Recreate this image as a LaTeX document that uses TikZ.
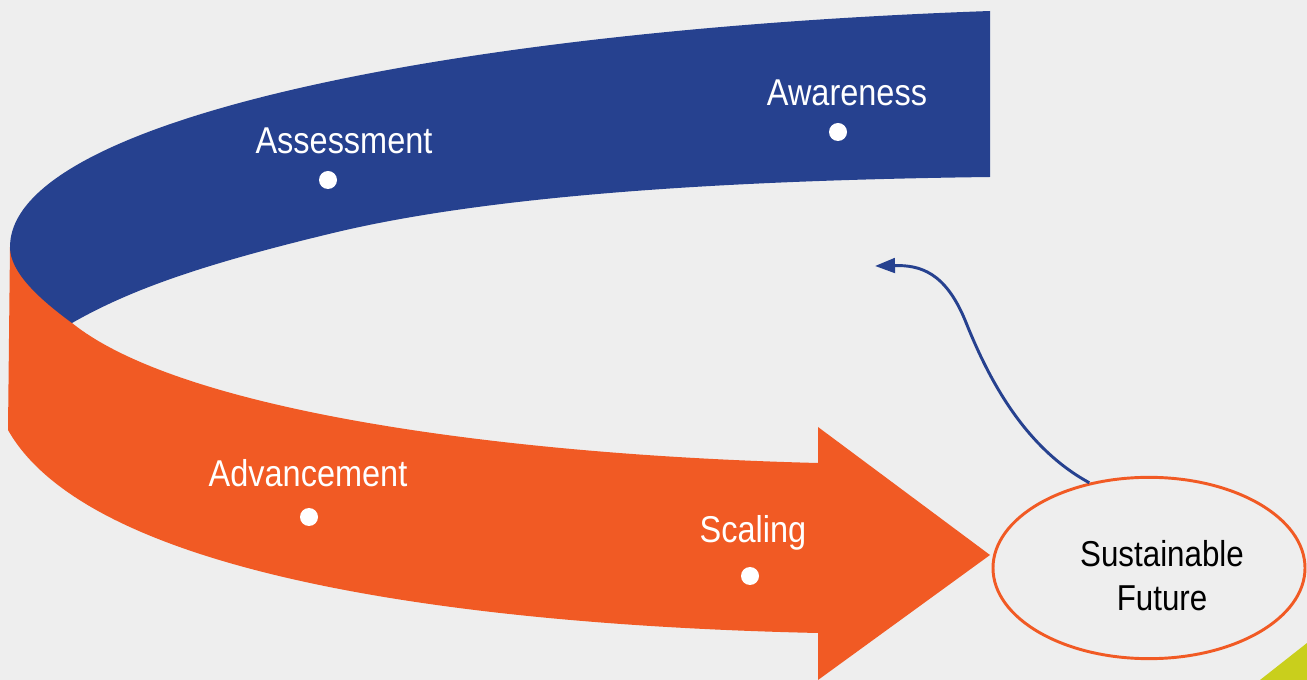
\documentclass[tikz,border=0pt]{standalone}
\usepackage{fontspec}
\usetikzlibrary{shapes.geometric,arrows.meta}
\newfontfamily\labfont[FakeStretch=0.87]{Liberation Sans}
\definecolor{bandblue}{HTML}{26418F}
\definecolor{bandorange}{HTML}{F15A24}
\definecolor{bg}{HTML}{EEEEEE}
\definecolor{lime}{HTML}{C9CF1C}
\tikzset{
  lbl/.style={text=white,font=\labfont\fontsize{28}{30}\selectfont,inner sep=0pt,anchor=center},
  dotmark/.style={circle,fill=white,minimum size=13.5pt,inner sep=0pt},
  goal/.style={ellipse,draw=bandorange,line width=2.2pt,minimum width=234pt,minimum height=136pt,inner sep=0pt},
  goaltext/.style={font=\labfont\fontsize{27}{33}\selectfont,align=center,text=black,inner sep=0pt},
  link/.style={draw=bandblue,line width=2.2pt,-{Triangle[length=15pt,width=11pt]}}
}
\begin{document}
\begin{tikzpicture}[x=0.75pt,y=-0.75pt]
\fill[bg] (0,0) rectangle (1307,680);
\useasboundingbox (0,0) rectangle (1307,680);
% lime corner
\fill[lime] (1260,680) -- (1307,643) -- (1307,680) -- cycle;
% orange band with arrow head
\fill[bandorange] (10,247) -- (8,430)
  .. controls (90,575) and (460,625) .. (818,633)
  -- (818,680) -- (990,555) -- (818,427) -- (818,463)
  .. controls (500,455) and (180,410) .. (72,323)
  -- (72,247) -- cycle;
% blue band
\fill[bandblue] (990,11)
  .. controls (450,30) and (10,120) .. (10,247)
  .. controls (10,272) and (38,298) .. (72,323)
  .. controls (130,290) and (200,265) .. (333,233)
  .. controls (500,192.8) and (750,180) .. (990,177)
  -- cycle;
% labels and dots
\node[lbl] (assess) at (344,141) {Assessment};
\node[dotmark] (assessdot) at (328,180) {};
\node[lbl] (aware) at (847,93) {Awareness};
\node[dotmark] (awaredot) at (838,132) {};
\node[lbl] (adv) at (308,473) {Advancement};
\node[dotmark] (advdot) at (309,517) {};
\node[lbl] (scal) at (753,533) {Scaling};
\node[dotmark] (scaldot) at (750,576) {};
% goal
\node[goal] (sf) at (1149,568) {};
\node[goaltext] (sftext) at (1162,576) {Sustainable\\Future};
\coordinate (back) at (875,266);
\draw[link] (sf.125) .. controls (1020,445) and (985,370) .. (965,320)
  .. controls (945,272) and (920,265) .. (back);
\end{tikzpicture}
\end{document}
